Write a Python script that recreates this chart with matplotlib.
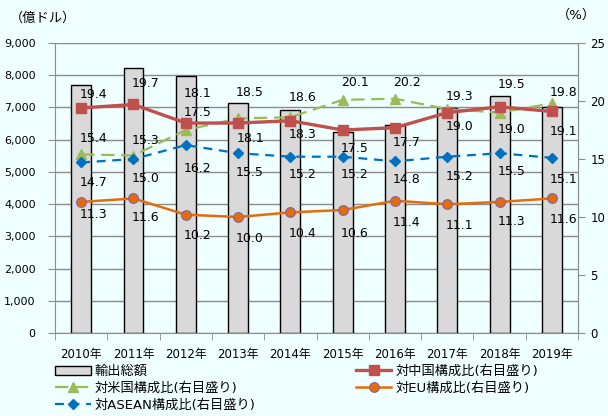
import numpy as np
import matplotlib
matplotlib.use('Agg')
from matplotlib import pyplot as plt

plt.rcParams['font.family'] = ['DejaVu Sans', 'Noto Sans CJK JP']

# data
years = ['2010年', '2011年', '2012年', '2013年', '2014年',
         '2015年', '2016年', '2017年', '2018年', '2019年']
exports = [7700, 8230, 7980, 7140, 6925, 6240, 6460, 6990, 7360, 7020]
china = [19.4, 19.7, 18.1, 18.1, 18.3, 17.5, 17.7, 19.0, 19.5, 19.1]
usa = [15.4, 15.3, 17.5, 18.5, 18.6, 20.1, 20.2, 19.3, 19.0, 19.8]
asean = [14.7, 15.0, 16.2, 15.5, 15.2, 15.2, 14.8, 15.2, 15.5, 15.1]
eu = [11.3, 11.6, 10.2, 10.0, 10.4, 10.6, 11.4, 11.1, 11.3, 11.6]

# vertical label offsets in pixels (+ above the point, - below)
china_dy = [13, 21, 30, -15, -14, -18, -15, -14, 22, -20]
usa_dy = [16, 15, 18, 26, 20, 17, 16, 13, -17, 11]
asean_dy = [-20, -19, -23, -19, -18, -18, -18, -20, -18, -22]
eu_dy = [-13, -19, -21, -21, -21, -23, -22, -21, -20, -21]

BG = '#F0FFFF'
GRID = '#8C8C8C'
PX = 0.72  # points per pixel at dpi 100

fig = plt.figure(figsize=(6.08, 4.16), dpi=100, facecolor=BG)
ax = fig.add_axes([0.0905, 0.1995, 0.8602, 0.6971], facecolor=BG)
x = np.arange(len(years))

bars = ax.bar(x, exports, width=0.38, color='#D9D9D9', edgecolor='black',
              linewidth=1.0, zorder=2)
ax.set_xlim(-0.5, len(years) - 0.5)
ax.set_ylim(0, 9000)
ax.set_yticks(np.arange(0, 9001, 1000))
ax.set_yticklabels(['{:,}'.format(v) for v in range(0, 9001, 1000)])
ax.yaxis.grid(True, color=GRID, linewidth=1.0)
ax.set_axisbelow(True)
ax.set_xticks(x)
ax.set_xticklabels(years)
ax.set_xticks(np.arange(-0.5, len(years)), minor=True)
ax.tick_params(axis='x', which='major', length=0, labelsize=8.5, pad=11)
ax.tick_params(axis='x', which='minor', length=5, color=GRID, direction='out')
ax.tick_params(axis='y', length=5, color=GRID, labelsize=8, pad=9)
ax.spines['top'].set_visible(False)
for s in ['left', 'bottom', 'right']:
    ax.spines[s].set_color(GRID)

ax2 = ax.twinx()
ax2.set_ylim(0, 25)
ax2.set_yticks([0, 5, 10, 15, 20, 25])
ax2.tick_params(axis='y', length=5, color=GRID, labelsize=8.5, pad=4)
for s in ['top', 'left', 'bottom']:
    ax2.spines[s].set_visible(False)
ax2.spines['right'].set_color(GRID)

l_china, = ax2.plot(x, china, color='#C0504D', linewidth=2.4, marker='s',
                    markersize=7, zorder=5)
l_usa, = ax2.plot(x, usa, color='#9BBB59', linewidth=1.6, marker='^',
                  markersize=7.5, dashes=(6, 3), zorder=4)
l_asean, = ax2.plot(x, asean, color='#0070C0', linewidth=1.6, marker='D',
                    markersize=5, dashes=(4, 3), zorder=4)
l_eu, = ax2.plot(x, eu, color='#E46C0A', linewidth=1.8, marker='o',
                 markersize=7, markeredgecolor='#8064A2', markeredgewidth=0.8,
                 zorder=4)

lab_kw = dict(fontsize=9, ha='center', va='center', color='black', zorder=6,
              textcoords='offset points')
for i in range(len(years)):
    for vals, dys in ((china, china_dy), (usa, usa_dy), (asean, asean_dy), (eu, eu_dy)):
        ax2.annotate('{:.1f}'.format(vals[i]), (x[i], vals[i]),
                     xytext=(12 * PX, dys[i] * PX), **lab_kw)

fig.text(10 / 608, 1 - 18 / 416, '（億ドル）', fontsize=9.5, va='center')
fig.text(596 / 608, 1 - 15 / 416, '（%）', fontsize=9.5, va='center', ha='right')

handles = [bars, l_usa, l_asean, l_china, l_eu]
labels = ['輸出総額', '対米国構成比(右目盛り)', '対ASEAN構成比(右目盛り)',
          '対中国構成比(右目盛り)', '対EU構成比(右目盛り)']
fig.legend(handles, labels, loc='upper left', bbox_to_anchor=(55 / 608, 1 - 365 / 416),
           ncol=2, frameon=False, fontsize=9.5, handlelength=2.7, labelspacing=0.28,
           columnspacing=7.6, handletextpad=0.3, borderpad=0.0, borderaxespad=0.0)

plt.savefig('out.png', dpi=100, facecolor=BG)
plt.close()
